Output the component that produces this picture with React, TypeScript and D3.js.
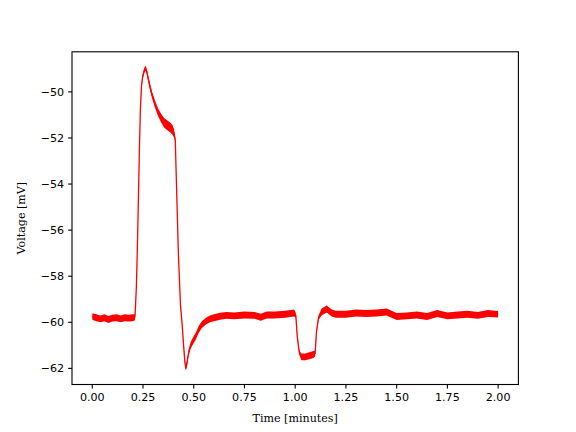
import React from "react";
import * as d3 from "d3";

// Time in minutes
const time: number[] = [
  0.0, 0.02, 0.04, 0.06, 0.08, 0.1, 0.12, 0.14, 0.16, 0.18, 0.2, 0.21,
  0.213, 0.217, 0.221, 0.225, 0.229, 0.233, 0.237, 0.242, 0.248, 0.255, 0.262,
  0.268, 0.275, 0.285, 0.295, 0.31, 0.325, 0.34, 0.355, 0.37, 0.385, 0.395,
  0.403, 0.409, 0.417, 0.425, 0.435, 0.442, 0.45, 0.456, 0.461,
  0.466, 0.475, 0.485, 0.5, 0.51, 0.525, 0.54, 0.56, 0.58, 0.6, 0.63, 0.66, 0.7,
  0.75, 0.8, 0.83, 0.86, 0.9, 0.95, 0.995, 1.003, 1.01, 1.02, 1.03, 1.05, 1.07,
  1.09, 1.098, 1.105, 1.115, 1.13, 1.155, 1.18, 1.2, 1.25, 1.3, 1.35, 1.4, 1.45,
  1.5, 1.55, 1.6, 1.65, 1.7, 1.75, 1.8, 1.85, 1.9, 1.95, 2.0,
];

// Voltage in mV (trace centre)
const voltage: number[] = [
  -59.75, -59.8, -59.85, -59.8, -59.88, -59.82, -59.8, -59.85, -59.8, -59.82, -59.8, -59.78,
  -59.3, -58.5, -57.2, -55.6, -53.9, -52.2, -50.8, -49.8, -49.35, -49.1, -48.97,
  -49.1, -49.4, -49.8, -50.15, -50.55, -50.9, -51.15, -51.35, -51.45, -51.55, -51.65,
  -51.8, -52.1, -54.7, -57.2, -59.3, -60.0, -61.0, -61.7, -62.0,
  -61.8, -61.3, -61.0, -60.75, -60.6, -60.3, -60.1, -59.95, -59.85, -59.8, -59.74, -59.7, -59.72,
  -59.68, -59.7, -59.78, -59.68, -59.68, -59.65, -59.6, -59.7, -60.6, -61.3, -61.5, -61.5, -61.45,
  -61.4, -61.35, -60.4, -59.8, -59.55, -59.42, -59.6, -59.65, -59.65, -59.6, -59.62, -59.6, -59.55,
  -59.75, -59.72, -59.68, -59.75, -59.62, -59.72, -59.68, -59.65, -59.7, -59.62, -59.65,
];

// Half-width of the recording noise (mV)
const spread: number[] = [
  0.14, 0.15, 0.15, 0.15, 0.15, 0.15, 0.15, 0.15, 0.15, 0.15, 0.15, 0.13,
  0.06, 0.05, 0.05, 0.05, 0.05, 0.05, 0.06, 0.08, 0.1, 0.11, 0.11,
  0.11, 0.13, 0.14, 0.15, 0.16, 0.17, 0.19, 0.21, 0.21, 0.21, 0.21,
  0.18, 0.08, 0.05, 0.05, 0.05, 0.05, 0.06, 0.08, 0.1,
  0.11, 0.13, 0.14, 0.15, 0.15, 0.15, 0.15, 0.15, 0.15, 0.15, 0.15, 0.15, 0.15,
  0.15, 0.15, 0.15, 0.15, 0.15, 0.15, 0.15, 0.1, 0.06, 0.1, 0.15, 0.15, 0.15,
  0.15, 0.13, 0.06, 0.1, 0.15, 0.15, 0.15, 0.15, 0.15, 0.15, 0.15, 0.15, 0.15,
  0.15, 0.15, 0.15, 0.15, 0.15, 0.15, 0.15, 0.15, 0.15, 0.15, 0.14,
];

const xTicks: number[] = [0, 0.25, 0.5, 0.75, 1.0, 1.25, 1.5, 1.75, 2.0];
const yTicks: number[] = [-62, -60, -58, -56, -54, -52, -50];

const W = 576;
const H = 432;
const left = 72;
const right = 518.4;
const top = 51.8;
const bottom = 384.5;

export default function App() {
  const x = d3.scaleLinear().domain([-0.1, 2.1]).range([left, right]);
  const y = d3.scaleLinear().domain([-62.7, -48.26]).range([bottom, top]);

  const pts = time.map((t, i) => ({ t, v: voltage[i], s: spread[i] }));
  const area = d3
    .area<{ t: number; v: number; s: number }>()
    .x((d) => x(d.t))
    .y0((d) => y(d.v - d.s))
    .y1((d) => y(d.v + d.s));
  const line = d3
    .line<{ t: number; v: number; s: number }>()
    .x((d) => x(d.t))
    .y((d) => y(d.v));

  const fs = 11.1;
  const minus = (n: number) => (n < 0 ? "\u2212" + Math.abs(n) : String(n));

  return (
    <svg
      width={W}
      height={H}
      style={{ position: "absolute", left: 0, top: 0, background: "#fff" }}
      fontFamily="DejaVu Sans"
    >
      <rect x={0} y={0} width={W} height={H} fill="#fff" />
      <defs>
        <clipPath id="plotclip">
          <rect x={left} y={top} width={right - left} height={bottom - top} />
        </clipPath>
      </defs>
      <g clipPath="url(#plotclip)">
        <path d={area(pts) || ""} fill="#ff0000" stroke="none" />
        <path d={line(pts) || ""} fill="none" stroke="#ff0000" strokeWidth={1.3} strokeLinejoin="round" />
      </g>
      <rect
        x={left}
        y={top}
        width={right - left}
        height={bottom - top}
        fill="none"
        stroke="#000"
        strokeWidth={1.1}
      />
      {xTicks.map((t) => (
        <g key={"x" + t}>
          <line x1={x(t)} x2={x(t)} y1={bottom} y2={bottom + 3.9} stroke="#000" strokeWidth={1.1} />
          <text x={x(t)} y={bottom + 3.9 + 3.9 + fs * 0.76} fontSize={fs} textAnchor="middle" fill="#000">
            {t.toFixed(2)}
          </text>
        </g>
      ))}
      {yTicks.map((v) => (
        <g key={"y" + v}>
          <line x1={left - 3.9} x2={left} y1={y(v)} y2={y(v)} stroke="#000" strokeWidth={1.1} />
          <text x={left - 3.9 - 3.9} y={y(v)} dy="0.36em" fontSize={fs} textAnchor="end" fill="#000">
            {minus(v)}
          </text>
        </g>
      ))}
      <text
        x={(left + right) / 2}
        y={422}
        fontSize={fs}
        textAnchor="middle"
        fontFamily="DejaVu Serif"
        fill="#000"
      >
        Time [minutes]
      </text>
      <text
        transform={`translate(25, ${(top + bottom) / 2}) rotate(-90)`}
        fontSize={fs}
        textAnchor="middle"
        fontFamily="DejaVu Serif"
        fill="#000"
      >
        Voltage [mV]
      </text>
    </svg>
  );
}
